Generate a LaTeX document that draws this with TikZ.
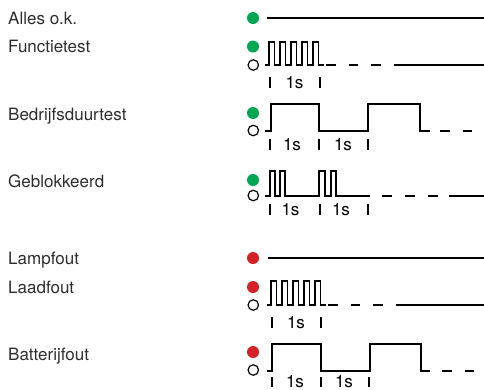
\documentclass[tikz,border=0pt]{standalone}
\usepackage{fontspec}
\setmainfont{TeX Gyre Heros}
\definecolor{ledgreen}{RGB}{0,166,81}
\definecolor{ledred}{RGB}{213,32,38}
\definecolor{txtgray}{RGB}{45,45,45}
\tikzset{
    statelabel/.style={anchor=base west, inner sep=0pt, text=txtgray, font=\fontsize{17}{20}\selectfont},
    ledon/.style={circle, fill=#1, inner sep=0pt, minimum size=12pt},
    ledoff/.style={circle, draw=black, line width=1.2pt, inner sep=0pt, minimum size=10.5pt},
    signal/.style={line width=1.6pt, line join=miter},
    dashsig/.style={signal, dash pattern=on 9.5pt off 13pt},
    secmark/.style={line width=2pt},
    seclabel/.style={anchor=base, inner sep=0pt, font=\fontsize{17}{20}\selectfont},
}
\begin{document}
\begin{tikzpicture}[x=1pt,y=-1pt]
    \useasboundingbox (0,0) rectangle (484,389);

    % State names
    \node[statelabel] (alles) at (8,24) {Alles o.k.};
    \node[statelabel] (functie) at (8,52.5) {Functietest};
    \node[statelabel] (bedrijf) at (8,120) {Bedrijfsduurtest};
    \node[statelabel] (geblok) at (8,187.5) {Geblokkeerd};
    \node[statelabel] (lamp) at (8,264) {Lampfout};
    \node[statelabel] (laad) at (8,293) {Laadfout};
    \node[statelabel] (batterij) at (8,360.5) {Batterijfout};

    % LEDs (filled = on, open = off)
    \node[ledon=ledgreen] (alles on) at (253,18) {};
    \node[ledon=ledgreen] (functie on) at (253,46.5) {};
    \node[ledoff] (functie off) at (253.3,65) {};
    \node[ledon=ledgreen] (bedrijf on) at (253,113) {};
    \node[ledoff] (bedrijf off) at (253.3,130.5) {};
    \node[ledon=ledgreen] (geblok on) at (253,180) {};
    \node[ledoff] (geblok off) at (253.3,195.5) {};
    \node[ledon=ledred] (lamp on) at (253,258) {};
    \node[ledon=ledred] (laad on) at (253,287) {};
    \node[ledoff] (laad off) at (253.3,305) {};
    \node[ledon=ledred] (batterij on) at (253,352) {};
    \node[ledoff] (batterij off) at (253.3,370) {};

    % Alles o.k.
    \draw[signal] (267,18) -- (484,18);

    % Functietest
    \draw[signal] (265,65) -- (269,65)
        \foreach \k in {0,...,4} { -- ++(0,-23) -- ++(5.5,0) -- ++(0,23) -- ++(5.5,0) };
    \draw[dashsig] (326,65) -- (392,65);
    \draw[signal] (394,65) -- (484,65);
    \foreach \x in {270,320} \draw[secmark] (\x,77) -- (\x,87.5);
    \node[seclabel] (functie s) at (294.5,88) {1s};

    % Bedrijfsduurtest
    \draw[signal] (265,131) -| (271,104) -| (319,131) -| (368,104) -| (420,131) -- (430,131);
    \draw[dashsig] (440,131) -- (473,131);
    \foreach \x in {270,319,368} \draw[secmark] (\x,139) -- (\x,149.5);
    \node[seclabel] (bedrijf s1) at (292,150.5) {1s};
    \node[seclabel] (bedrijf s2) at (343,150.5) {1s};

    % Geblokkeerd
    \draw[signal] (265,196) -| (270,171) -| (275,196) -| (280,171) -| (285,196)
        -| (319,171) -| (325,196) -| (331,171) -| (336,196) -- (370,196);
    \draw[dashsig, dash pattern=on 10pt off 13pt] (382,196) -- (440,196);
    \draw[signal] (449,196) -- (484,196);
    \foreach \x in {270,320,368} \draw[secmark] (\x,204) -- (\x,214.5);
    \node[seclabel] (geblok s1) at (290.5,215.5) {1s};
    \node[seclabel] (geblok s2) at (341,215.5) {1s};

    % Lampfout
    \draw[signal] (268,258) -- (484,258);

    % Laadfout
    \draw[signal] (267,305) -- (271,305)
        \foreach \k in {0,...,4} { -- ++(0,-24) -- ++(5.5,0) -- ++(0,24) -- ++(5.5,0) };
    \draw[dashsig] (328,305) -- (394,305);
    \draw[signal] (396,305) -- (484,305);
    \foreach \x in {272,321} \draw[secmark] (\x,317) -- (\x,327.5);
    \node[seclabel] (laad s) at (296,328) {1s};

    % Batterijfout
    \draw[signal] (267,371) -| (272,344) -| (321,371) -| (370,344) -| (421,371) -- (430,371);
    \draw[dashsig] (442,371) -- (474,371);
    \foreach \x in {272,321,369} \draw[secmark] (\x,377) -- (\x,387);
    \node[seclabel] (batterij s1) at (295,387) {1s};
    \node[seclabel] (batterij s2) at (344,387) {1s};
\end{tikzpicture}
\end{document}
